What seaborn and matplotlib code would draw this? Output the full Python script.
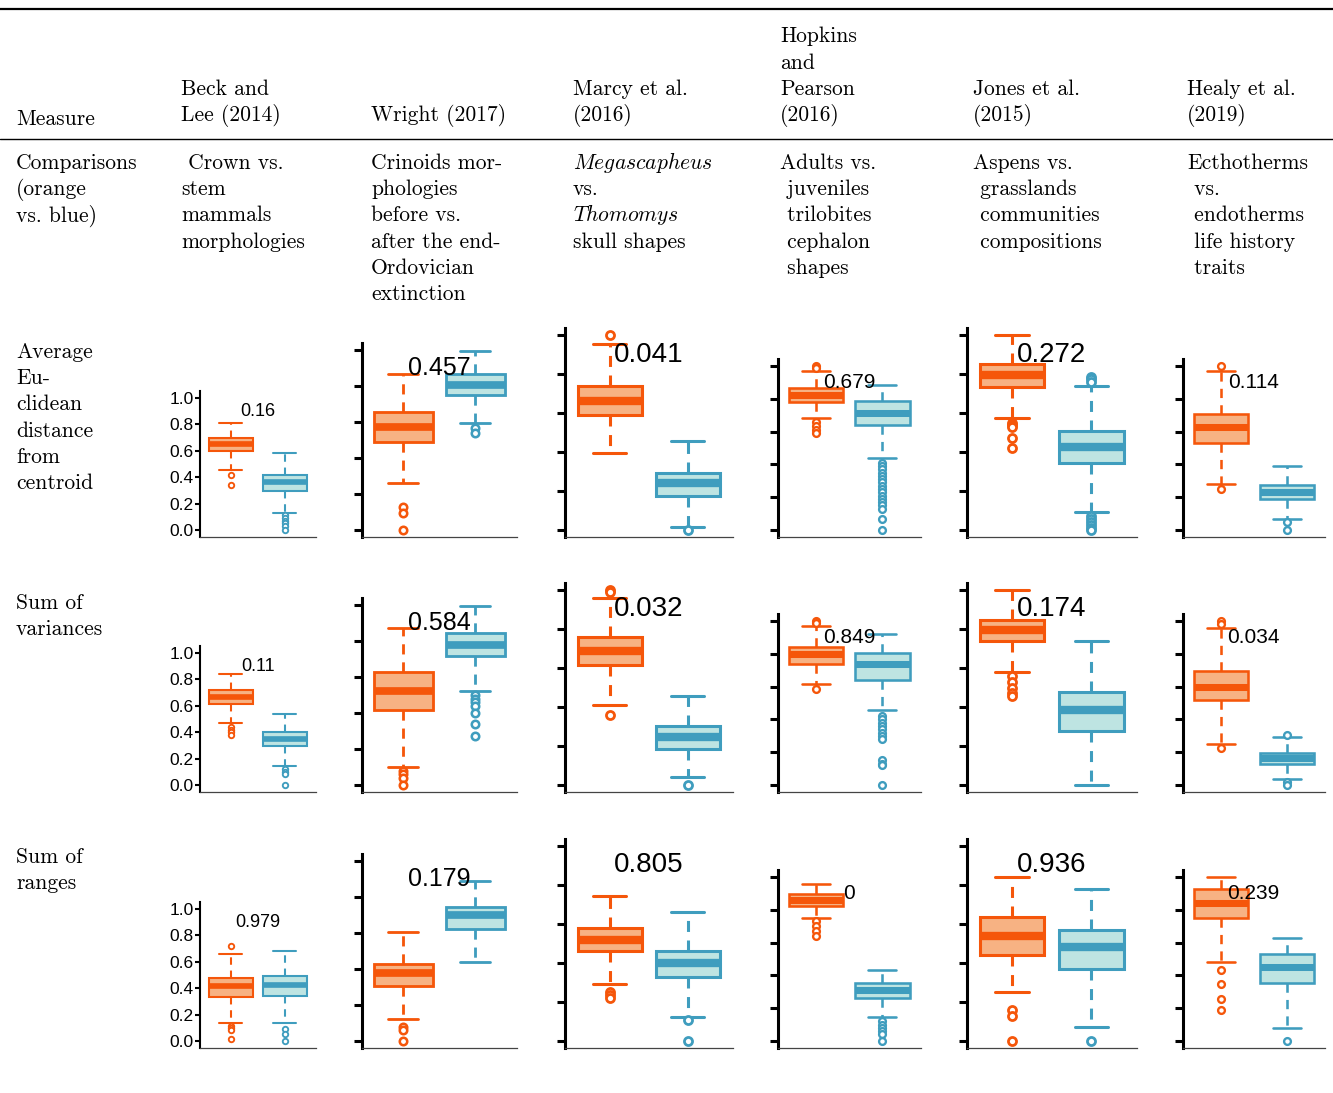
import numpy as np
import matplotlib.pyplot as plt
import seaborn as sns

# seaborn theme first, fonts after (set_theme resets font.family)
sns.set_theme(style="ticks")
plt.rcParams['font.family'] = ['cmr10', 'DejaVu Serif']
plt.rcParams['mathtext.fontset'] = 'cm'
plt.rcParams['axes.unicode_minus'] = False
plt.rcParams['axes.formatter.use_mathtext'] = True

# ---- table text ----
header_lines = [["Measure"], ["Beck and", "Lee (2014)"], ["Wright (2017)"],
                ["Marcy et al.", "(2016)"], ["Hopkins", "and", "Pearson", "(2016)"],
                ["Jones et al.", "(2015)"], ["Healy et al.", "(2019)"]]
comparison_lines = [["Comparisons", "(orange", "vs. blue)"],
                    [" Crown vs.", "stem", "mammals", "morphologies"],
                    ["Crinoids mor-", "phologies", "before vs.", "after the end-", "Ordovician", "extinction"],
                    [r"$\mathit{Megascapheus}$", "vs.", r"$\mathit{Thomomys}$", "skull shapes"],
                    ["Adults vs.", " juveniles", " trilobites", " cephalon", " shapes"],
                    ["Aspens vs.", " grasslands", " communities", " compositions"],
                    ["Ecthotherms", " vs.", " endotherms", " life history", " traits"]]
measure_lines = [["Average", "Eu-", "clidean", "distance", "from", "centroid"],
                 ["Sum of", "variances"],
                 ["Sum of", "ranges"]]

# ---- box summaries: [low whisker, q1, median, q3, high whisker] per study ----
avg_orange = [[0.455, 0.60, 0.65, 0.70, 0.81], [0.26, 0.487, 0.572, 0.654, 0.865],
              [0.397, 0.59, 0.662, 0.74, 0.952], [0.68, 0.782, 0.823, 0.868, 0.97],
              [0.573, 0.735, 0.795, 0.851, 1.0], [0.28, 0.53, 0.626, 0.71, 0.97]]
avg_orange_fliers = [[0.42, 0.34], [0.13, 0.096, 0.0], [1.0], [1.0, 0.99, 0.66, 0.635, 0.61, 0.59],
                     [0.55, 0.54, 0.53, 0.47, 0.419], [1.0, 0.25]]
avg_blue = [[0.126, 0.295, 0.36, 0.416, 0.58], [0.596, 0.75, 0.805, 0.865, 0.996],
            [0.014, 0.176, 0.24, 0.294, 0.458], [0.437, 0.64, 0.715, 0.786, 0.884],
            [0.094, 0.342, 0.424, 0.509, 0.738], [0.07, 0.187, 0.234, 0.274, 0.39]]
avg_blue_fliers = [[0.11, 0.09, 0.07, 0.05, 0.03, 0.0], [0.565, 0.537], [0.0],
                   [0.41, 0.39, 0.37, 0.35, 0.33, 0.31, 0.29, 0.27, 0.25, 0.23, 0.21, 0.19,
                    0.17, 0.15, 0.13, 0.07, 0.0],
                   [0.786, 0.775, 0.76, 0.07, 0.055, 0.04, 0.025, 0.01, 0.0], [0.047, 0.0]]

var_orange = [[0.466, 0.617, 0.67, 0.72, 0.843], [0.10, 0.416, 0.524, 0.63, 0.87],
              [0.41, 0.615, 0.687, 0.76, 0.96], [0.616, 0.74, 0.80, 0.842, 0.97],
              [0.58, 0.738, 0.795, 0.846, 1.0], [0.25, 0.518, 0.60, 0.695, 0.957]]
var_orange_fliers = [[0.44, 0.42, 0.40, 0.38], [0.08, 0.06, 0.04, 0.0], [1.0, 0.99, 0.36],
                     [1.0, 0.99, 0.586], [0.56, 0.53, 0.50, 0.47, 0.456], [1.0, 0.98, 0.226]]
var_blue = [[0.144, 0.296, 0.347, 0.405, 0.537], [0.524, 0.717, 0.78, 0.846, 0.996],
            [0.04, 0.185, 0.248, 0.303, 0.456], [0.459, 0.642, 0.737, 0.804, 0.92],
            [0.0, 0.277, 0.385, 0.477, 0.738], [0.037, 0.128, 0.165, 0.195, 0.29]]
var_blue_fliers = [[0.12, 0.10, 0.08, 0.0], [0.50, 0.48, 0.46, 0.44, 0.40, 0.34, 0.27], [0.0],
                   [0.42, 0.40, 0.38, 0.36, 0.34, 0.32, 0.30, 0.28, 0.15, 0.13, 0.12, 0.0],
                   [], [0.305, 0.018, 0.0]]

rng_orange = [[0.14, 0.336, 0.42, 0.475, 0.66], [0.123, 0.307, 0.38, 0.43, 0.606],
              [0.29, 0.46, 0.52, 0.577, 0.745], [0.748, 0.825, 0.86, 0.895, 0.955],
              [0.253, 0.443, 0.54, 0.634, 0.84], [0.48, 0.75, 0.84, 0.927, 1.0]]
rng_orange_fliers = [[0.722, 0.11, 0.095, 0.085, 0.016], [0.08, 0.06, 0.0], [0.25, 0.235, 0.22],
                     [0.73, 0.70, 0.67, 0.64], [0.16, 0.13, 0.0], [0.43, 0.35, 0.256, 0.19]]
rng_blue = [[0.134, 0.343, 0.424, 0.49, 0.68], [0.44, 0.62, 0.70, 0.743, 0.888],
            [0.124, 0.33, 0.40, 0.46, 0.66], [0.144, 0.26, 0.31, 0.352, 0.43],
            [0.072, 0.37, 0.48, 0.567, 0.778], [0.08, 0.354, 0.45, 0.53, 0.628]]
rng_blue_fliers = [[0.09, 0.05, 0.0], [], [0.11, 0.0], [0.12, 0.10, 0.08, 0.06, 0.04, 0.0],
                   [0.0], [0.0]]

p_values = [["0.16", "0.457", "0.041", "0.679", "0.272", "0.114"],
            ["0.11", "0.584", "0.032", "0.849", "0.174", "0.034"],
            ["0.979", "0.179", "0.805", "0", "0.936", "0.239"]]
y_ticks = [0.0, 0.2, 0.4, 0.6, 0.8, 1.0]
y_ticklabels = ["0.0", "0.2", "0.4", "0.6", "0.8", "1.0"]

rows = [(avg_orange, avg_orange_fliers, avg_blue, avg_blue_fliers),
        (var_orange, var_orange_fliers, var_blue, var_blue_fliers),
        (rng_orange, rng_orange_fliers, rng_blue, rng_blue_fliers)]

# colours
orange_dark, orange_light = "#F5560A", "#F7B283"
blue_dark, blue_light = "#3F9DBE", "#BEE4E2"

# ---- layout (pixels) ----
W, H = 1333, 1093
fig = plt.figure(figsize=(W / 100, H / 100), dpi=100)

def fx(px):
    return px / W

def fy(py):
    return 1 - py / H

col_text_x = [16, 181, 371, 573, 780, 973, 1187]
col_left = [200, 362, 565, 778, 967, 1183]
col_right = [316, 517, 733, 921, 1137, 1325]
col_height = [132, 180, 195, 164, 195, 164]
col_note_size = [13, 18, 20, 15, 20, 15]
row_zero = [530, 785, 1041]
pad = 7
line_step = 26.2
text_size = 15.5

# horizontal rules
for y, lw in [(9, 1.6), (139, 1.0)]:
    fig.add_artist(plt.Line2D([0, 1], [fy(y), fy(y)], color="black", lw=lw,
                              transform=fig.transFigure))

def put_lines(lines, x, first_baseline):
    for i, s in enumerate(lines):
        fig.text(fx(x), fy(first_baseline + i * line_step), s, fontsize=text_size,
                 ha="left", va="baseline", color="black")

# header, bottom aligned ("Measure" sits a touch lower)
for k, (lines, x) in enumerate(zip(header_lines, col_text_x)):
    last = 125 if k == 0 else 121
    put_lines(lines, x, last - (len(lines) - 1) * line_step)
for lines, x in zip(comparison_lines, col_text_x):
    put_lines(lines, x, 169)
for lines, y in zip(measure_lines, [358, 609, 863]):
    put_lines(lines, col_text_x[0], y)

def box_stats(s, fl):
    return dict(whislo=s[0], q1=s[1], med=s[2], q3=s[3], whishi=s[4],
                fliers=np.array(fl, dtype=float))

for r, (o_stats, o_fl, b_stats, b_fl) in enumerate(rows):
    y0 = row_zero[r]
    for c in range(6):
        h = col_height[c]
        f = h / 195
        ax = fig.add_axes([fx(col_left[c]), fy(y0 + pad),
                           (col_right[c] - col_left[c]) / W, (h + 2 * pad) / H])
        for pos, st, fl, dark, light in [(0, o_stats[c], o_fl[c], orange_dark, orange_light),
                                         (1, b_stats[c], b_fl[c], blue_dark, blue_light)]:
            ax.bxp([box_stats(st, fl)], positions=[pos], widths=0.82, capwidths=0.42,
                   patch_artist=True, showfliers=True,
                   boxprops=dict(facecolor=light, edgecolor=dark, linewidth=2.2 * f),
                   medianprops=dict(color=dark, linewidth=6 * f, solid_capstyle="butt"),
                   whiskerprops=dict(color=dark, linewidth=2.2 * f, linestyle=(0, (3.6, 2.8))),
                   capprops=dict(color=dark, linewidth=2.2 * f),
                   flierprops=dict(marker="o", markersize=5.8 * f, markerfacecolor="white",
                                   markeredgecolor=dark, markeredgewidth=2.0 * f))
        ax.set_xlim(-0.57, 1.58)
        ax.set_ylim(-pad / h, 1 + pad / h)
        ax.set_xticks([])
        ax.set_yticks(y_ticks)
        sns.despine(ax=ax)
        ax.spines["bottom"].set_color("#444444")
        ax.spines["bottom"].set_linewidth(0.9)
        ax.spines["left"].set_color("black")
        ax.set_facecolor("none")
        if c == 0:
            ax.spines["left"].set_linewidth(1.5)
            ax.set_yticklabels(y_ticklabels, family=["Liberation Sans", "DejaVu Sans"],
                               fontsize=12.5)
            ax.tick_params(axis="y", length=3.6, width=1.5, pad=1, colors="black")
        else:
            ax.spines["left"].set_linewidth(2.2)
            ax.set_yticklabels([])
            ax.tick_params(axis="y", length=5.8, width=2.2, colors="black")
        ax.text(0.5, 0.9, p_values[r][c], ha="center", va="center",
                fontsize=col_note_size[c], family=["Liberation Sans", "DejaVu Sans"],
                color="black", zorder=5)

fig.savefig("out.png", dpi=100)
